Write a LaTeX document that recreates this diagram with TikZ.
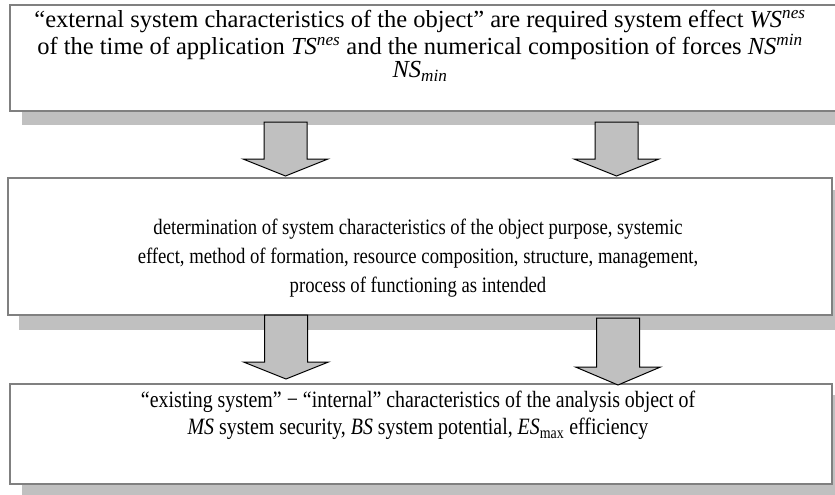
\documentclass[tikz,border=0pt]{standalone}
\usepackage{fontspec}
\setmainfont{Liberation Serif}
\newfontfamily\condfont{Liberation Serif}[FakeStretch=0.85]
\definecolor{bordergray}{HTML}{808080}
\definecolor{shadowgray}{HTML}{C0C0C0}
\begin{document}
\begin{tikzpicture}[x=1pt,y=-1pt,
  box/.style={draw=bordergray, line width=2pt, fill=white, inner sep=0pt, outer sep=0pt, anchor=north west},
  openbox/.style={draw=bordergray, line width=2pt},
  shade/.style={fill=shadowgray},
  blk/.style={fill=shadowgray, draw=black, line width=1pt, line join=miter},
  txt/.style={align=center, inner sep=0pt, anchor=north}]
\useasboundingbox (0,0) rectangle (835,495);
% shadows
\fill[shade] (22,19) rectangle (860,125);
\fill[shade] (19,190) rectangle (860,330);
\fill[shade] (22,395) rectangle (860,500);
% boxes
\node[box, draw=none, minimum width=850pt, minimum height=106pt] (b1) at (10,5) {};
\draw[openbox] (b1.north east) -- (b1.north west) -- (b1.south west) -- (b1.south east);
\node[box, minimum width=824pt, minimum height=137pt] (b2) at (8,178) {};
\node[box, minimum width=822pt, minimum height=100pt] (b3) at (10,384) {};
% block arrows
\newcommand{\blockarrow}[4]{% cx, top, wing, tip
  \draw[blk] (#1-21.5,#2) -- (#1+21.5,#2) -- (#1+21.5,#3) -- (#1+42.5,#3)
    -- (#1,#4) -- (#1-42.5,#3) -- (#1-21.5,#3) -- cycle;}
\blockarrow{285.5}{122}{159}{176}
\blockarrow{616.5}{122}{159}{176}
\blockarrow{286}{315}{362}{379}
\blockarrow{618}{318}{367}{385}
% texts
\node[txt, font=\fontsize{24.5}{23.5}\selectfont] (t1) at (420,10)
  {“external system characteristics of the object” are required system effect \textit{WS}\textsuperscript{\textit{nes}}\\
   of the time of application \textit{TS}\textsuperscript{\textit{nes}} and the numerical composition of forces \textit{NS}\textsuperscript{\textit{min}}\\
   \textit{NS}\textsubscript{\textit{min}}};
\node[txt, font=\condfont\fontsize{22}{29}\selectfont] (t2) at (418,219)
  {determination of system characteristics of the object purpose, systemic\\
   effect, method of formation, resource composition, structure, management,\\
   process of functioning as intended};
\node[txt, font=\condfont\fontsize{23.4}{27}\selectfont] (t3) at (418,391)
  {“existing system” − “internal” characteristics of the analysis object of\\
   \textit{MS} system security, \textit{BS} system potential, \textit{ES}\textsubscript{max} efficiency};
\end{tikzpicture}
\end{document}
